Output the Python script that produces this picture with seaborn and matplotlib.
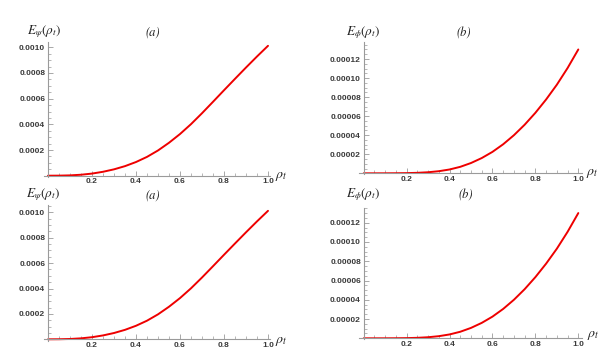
import numpy as np
import pandas as pd
import seaborn as sns
import matplotlib
matplotlib.use("Agg")
import matplotlib.pyplot as plt
from matplotlib.ticker import FixedLocator, AutoMinorLocator, FuncFormatter

# ---- data ----
rho = [0.0, 0.05, 0.10, 0.15, 0.20, 0.25, 0.30, 0.35, 0.40, 0.45, 0.50,
       0.55, 0.60, 0.65, 0.70, 0.75, 0.80, 0.85, 0.90, 0.95, 1.00]
E_psi = [0.0, 0.005e-4, 0.025e-4, 0.075e-4, 0.165e-4, 0.305e-4, 0.495e-4,
         0.745e-4, 1.065e-4, 1.465e-4, 1.965e-4, 2.565e-4, 3.245e-4,
         4.015e-4, 4.865e-4, 5.755e-4, 6.655e-4, 7.545e-4, 8.425e-4,
         9.285e-4, 10.115e-4]
E_phi = [0.0, 0.0, 0.002e-5, 0.008e-5, 0.02e-5, 0.05e-5, 0.11e-5, 0.22e-5,
         0.40e-5, 0.68e-5, 1.08e-5, 1.60e-5, 2.25e-5, 3.05e-5, 4.00e-5,
         5.10e-5, 6.35e-5, 7.75e-5, 9.30e-5, 11.05e-5, 13.00e-5]

x_ticks = [0.2, 0.4, 0.6, 0.8, 1.0]
psi_ticks = [0.0002, 0.0004, 0.0006, 0.0008, 0.0010]
phi_ticks = [0.00002, 0.00004, 0.00006, 0.00008, 0.00010, 0.00012]
panel_titles = ["(a)", "(b)", "(a)", "(b)"]
y_names = [r"$E_{\psi}(\rho_t)$", r"$E_{\phi}(\rho_t)$",
           r"$E_{\psi}(\rho_t)$", r"$E_{\phi}(\rho_t)$"]
x_name = r"$\rho_t$"

df_psi = pd.DataFrame({"rho": rho, "E": E_psi})
df_phi = pd.DataFrame({"rho": rho, "E": E_phi})

sns.set_theme(style="white")
plt.rcParams["mathtext.fontset"] = "stix"
plt.rcParams["font.family"] = ["DejaVu Sans"]

W, H = 616, 359
fig = plt.figure(figsize=(W / 100, H / 100), dpi=100)

def place(x0px, x1px, y0px, yrefpx, yref, xlim, ylim):
    sx = (x1px - x0px)
    sy = (y0px - yrefpx) / yref
    left = x0px + xlim[0] * sx
    right = x0px + xlim[1] * sx
    bottom = y0px - ylim[0] * sy
    top = y0px - ylim[1] * sy
    ax = fig.add_axes([left / W, 1 - bottom / H, (right - left) / W, (bottom - top) / H])
    ax.set_xlim(*xlim)
    ax.set_ylim(*ylim)
    return ax

specs = [
    (48.0, 268.0, 175.7, 47.3, 0.0010, (-0.02, 1.01), (-1.2e-5, 1.04e-3), df_psi, psi_ticks, "{:.4f}"),
    (363.7, 578.3, 173.3, 59.0, 0.00012, (-0.02, 1.015), (-1.2e-6, 1.375e-4), df_phi, phi_ticks, "{:.5f}"),
    (48.0, 268.0, 339.3, 212.3, 0.0010, (-0.02, 1.01), (-1.2e-5, 1.055e-3), df_psi, psi_ticks, "{:.4f}"),
    (363.7, 578.3, 338.3, 222.7, 0.00012, (-0.02, 1.015), (-1.2e-6, 1.35e-4), df_phi, phi_ticks, "{:.5f}"),
]
title_pos = [(153, 32), (464, 33), (153, 195), (466, 195)]
ylab_pos = [(44, 32), (363, 33), (43, 195), (363, 195)]
xlab_pos = [(281, 176), (592, 173), (281, 341.5), (593, 335)]

axis_col = "#9a9a9a"
tick_col = "#3a3a3a"

for i, (x0, x1, y0, yr, yv, xl, yl, d, yt, fmt) in enumerate(specs):
    ax = place(x0, x1, y0, yr, yv, xl, yl)
    sns.lineplot(data=d, x="rho", y="E", ax=ax, color="#ee0000", linewidth=1.4)
    ax.set_xlabel("")
    ax.set_ylabel("")
    for s in ["top", "right"]:
        ax.spines[s].set_visible(False)
    ax.spines["left"].set_position(("data", 0))
    ax.spines["bottom"].set_position(("data", 0))
    for s in ["left", "bottom"]:
        ax.spines[s].set_color(axis_col)
        ax.spines[s].set_linewidth(0.8)
    ax.xaxis.set_major_locator(FixedLocator(x_ticks))
    ax.yaxis.set_major_locator(FixedLocator(yt))
    ax.xaxis.set_major_formatter(FuncFormatter(lambda v, p: f"{v:.1f}"))
    ax.yaxis.set_major_formatter(FuncFormatter(lambda v, p, f=fmt: f.format(v)))
    ax.xaxis.set_minor_locator(FixedLocator([k * 0.05 for k in range(0, 21)]))
    ax.yaxis.set_minor_locator(AutoMinorLocator(4))
    ax.tick_params(axis="both", which="major", direction="in", length=3.5, width=0.6,
                   color=axis_col, labelsize=6, labelcolor=tick_col, pad=2)
    ax.tick_params(axis="both", which="minor", direction="in", length=2, width=0.5,
                   color=axis_col)
    ax.tick_params(axis="x", which="both", bottom=True)
    ax.tick_params(axis="y", which="both", left=True)
    for lab in ax.get_xticklabels() + ax.get_yticklabels():
        lab.set_fontfamily("Liberation Sans")
        lab.set_fontweight("bold")
    ax.patch.set_alpha(0)

    tx, ty = title_pos[i]
    fig.text(tx / W, 1 - ty / H, panel_titles[i], ha="center", va="center",
             fontsize=9, fontfamily="STIXGeneral", style="italic", color="#222222")
    lx, ly = ylab_pos[i]
    fig.text(lx / W, 1 - ly / H, y_names[i], ha="center", va="center",
             fontsize=9.5, color="#222222")
    xx, xy = xlab_pos[i]
    fig.text(xx / W, 1 - xy / H, x_name, ha="center", va="center",
             fontsize=10, color="#222222")

fig.savefig("out.png", dpi=100)
